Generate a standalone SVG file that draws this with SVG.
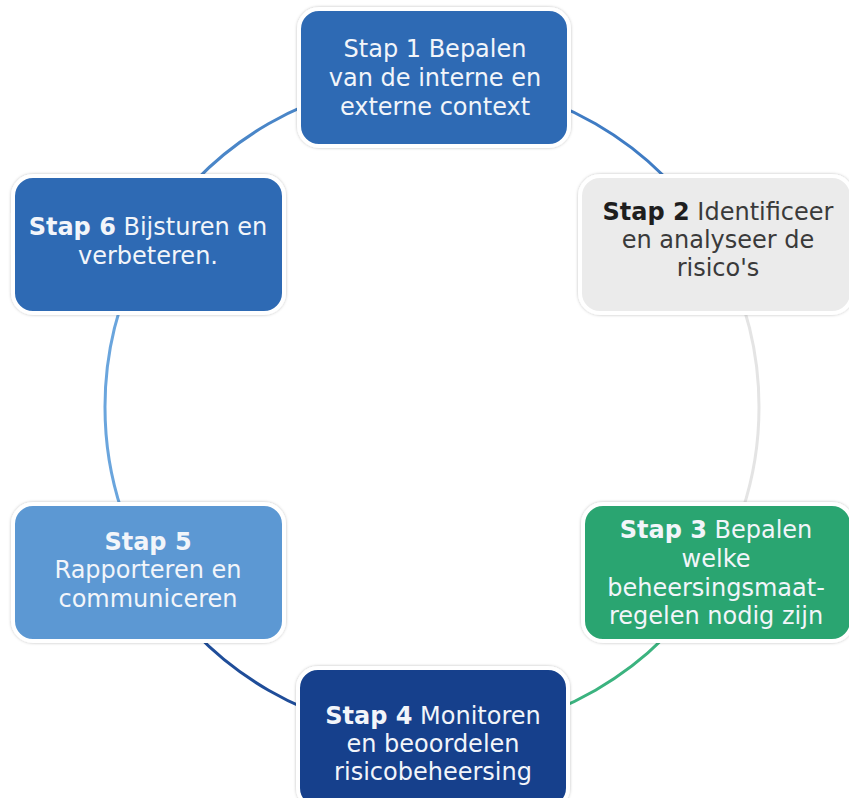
<svg xmlns="http://www.w3.org/2000/svg" width="849" height="798" viewBox="0 0 849 798">
<defs>
<filter id="sh" x="-10%" y="-10%" width="120%" height="120%">
<feDropShadow dx="0" dy="0" stdDeviation="1.5" flood-color="#000" flood-opacity="0.25"/>
</filter>
</defs>
<style>
.box{stroke:#fff;stroke-width:4;filter:url(#sh)}
.arc{fill:none;stroke-width:3}
text{font-family:"DejaVu Sans","Liberation Sans",sans-serif;font-size:24px;text-anchor:middle}
.w{fill:#f2f5fa}
.d{fill:#3a3a3a}
.b{font-weight:bold}
</style>
<rect width="849" height="798" fill="#fff"/>
<g id="connectors">
<path class="arc" stroke="#3f7cc4" d="M432 80 A327 327 0 0 1 715.2 243.5"/>
<path class="arc" stroke="#e4e4e4" d="M715.2 243.5 A327 327 0 0 1 715.2 570.5"/>
<path class="arc" stroke="#3bb37f" d="M715.2 570.5 A327 327 0 0 1 432 734"/>
<path class="arc" stroke="#1f4d99" d="M432 734 A327 327 0 0 1 148.8 570.5"/>
<path class="arc" stroke="#6aa5dd" d="M148.8 570.5 A327 327 0 0 1 148.8 243.5"/>
<path class="arc" stroke="#4a86c8" d="M148.8 243.5 A327 327 0 0 1 432 80"/>
</g>
<g id="node1">
<rect class="box" x="299" y="9" width="270" height="137" rx="20" fill="#2e6ab4"/>
<text class="w" x="435" y="57">Stap 1 Bepalen</text>
<text class="w" x="435" y="86">van de interne en</text>
<text class="w" x="435" y="115">externe context</text>
</g>
<g id="node2">
<rect class="box" x="580" y="176" width="272" height="137" rx="20" fill="#ebebeb"/>
<text class="d" x="718" y="220"><tspan class="b" fill="#1e1e1e">Stap 2</tspan> Identificeer</text>
<text class="d" x="718" y="248">en analyseer de</text>
<text class="d" x="718" y="276">risico's</text>
</g>
<g id="node3">
<rect class="box" x="583" y="504" width="269" height="137" rx="20" fill="#2ca571"/>
<text class="w" x="716" y="538"><tspan class="b">Stap 3</tspan> Bepalen</text>
<text class="w" x="716" y="567">welke</text>
<text class="w" x="716" y="596">beheersingsmaat-</text>
<text class="w" x="716" y="624">regelen nodig zijn</text>
</g>
<g id="node4">
<rect class="box" x="298" y="668" width="270" height="140" rx="20" fill="#123f8c"/>
<text class="w" x="433" y="724"><tspan class="b">Stap 4</tspan> Monitoren</text>
<text class="w" x="433" y="752">en beoordelen</text>
<text class="w" x="433" y="780">risicobeheersing</text>
</g>
<g id="node5">
<rect class="box" x="13" y="504" width="271" height="137" rx="20" fill="#5b98d3"/>
<text class="w b" x="148" y="550">Stap 5</text>
<text class="w" x="148" y="578">Rapporteren en</text>
<text class="w" x="148" y="607">communiceren</text>
</g>
<g id="node6">
<rect class="box" x="13" y="176" width="271" height="137" rx="20" fill="#2e6ab4"/>
<text class="w" x="148" y="235"><tspan class="b">Stap 6</tspan> Bijsturen en</text>
<text class="w" x="148" y="264">verbeteren.</text>
</g>
</svg>
